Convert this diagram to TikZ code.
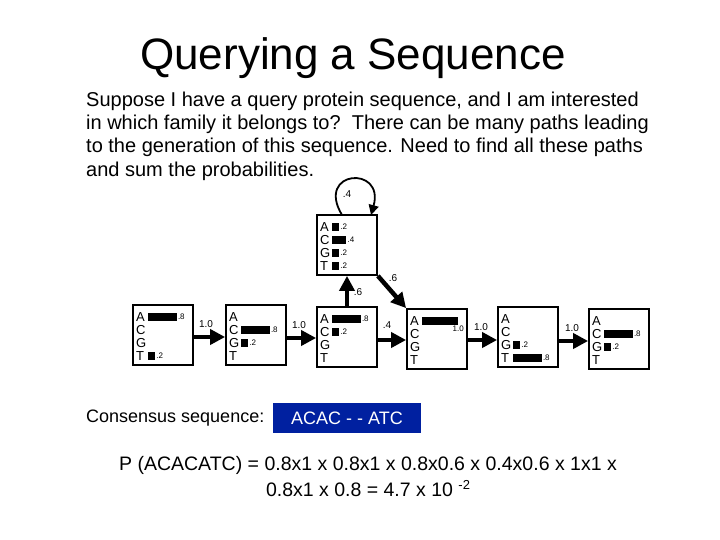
\documentclass[tikz,border=0pt]{standalone}
\usepackage{fontspec}
\setmainfont{Liberation Sans}
\usetikzlibrary{arrows.meta}
\newcommand\statebox[4]{%
  \node[sbox] (#1) at (#2+30,#3+30) {};
  \foreach \l/\v/\t [count=\i] in {#4} {
    \node[lett] (#1l\i) at (#2+3,#3-1+13*\i) {\l};
    \ifdim \v pt>0pt
      \fill (#2+15,#3-5+13*\i) rectangle ++(36*\v,8);
      \ifdim \v pt<1pt
        \node[val] (#1v\i) at (#2+15+36*\v,#3-1+13*\i) {\t};
      \else
        \node[val,anchor=north east] (#1v\i) at (#2+58,#3+3+13*\i) {\t};
      \fi
    \fi
  }%
}
\begin{document}
\begin{tikzpicture}[x=1pt,y=-1pt,
  sbox/.style={draw,line width=1.8pt,minimum width=60pt,minimum height=60pt,inner sep=0pt},
  lett/.style={anchor=west,inner sep=0pt,font=\fontsize{13}{13}\selectfont},
  val/.style={anchor=west,inner sep=1pt,font=\fontsize{8}{8}\selectfont},
  lab/.style={inner sep=0pt,font=\fontsize{10}{10}\selectfont},
  arr/.style={line width=4.5pt,-{Triangle[length=15pt,width=15pt]}},
  txt/.style={anchor=west,inner sep=0pt,font=\fontsize{20}{20}\selectfont}]
\useasboundingbox (0,0) rectangle (720,540);
\node[font=\fontsize{44}{44}\selectfont] (title) at (353,58) {Querying a Sequence};
\node[txt] (t1) at (86,101) {Suppose I have a query protein sequence, and I am interested};
\node[txt] (t2) at (86,124) {in which family it belongs to?\ \ There can be many paths leading};
\node[txt] (t3) at (86,147) {to the generation of this sequence. Need to find all these paths};
\node[txt] (t4) at (86,171) {and sum the probabilities.};
\statebox{b1}{133}{305}{A/0.8/.8,C/0/,G/0/,T/0.2/.2}
\statebox{b2}{226}{305}{A/0/,C/0.8/.8,G/0.2/.2,T/0/}
\statebox{b3}{317}{307}{A/0.8/.8,C/0.2/.2,G/0/,T/0/}
\statebox{bt}{317}{215}{A/0.2/.2,C/0.4/.4,G/0.2/.2,T/0.2/.2}
\statebox{b4}{407}{309}{A/1/1.0,C/0/,G/0/,T/0/}
\statebox{b5}{498}{307}{A/0/,C/0/,G/0.2/.2,T/0.8/.8}
\statebox{b6}{589}{309}{A/0/,C/0.8/.8,G/0.2/.2,T/0/}
\draw[arr] (b1.east|-0,337) -- (b2.west|-0,337);
\draw[arr] (b2.east|-0,338) -- (b3.west|-0,338);
\draw[arr] (b3.east|-0,340) -- (b4.west|-0,340);
\draw[arr] (b3.north) -- (bt.south);
\draw[arr] (bt.south east) -- (b4.north west);
\draw[arr] (b4.east|-0,340) -- (b5.west|-0,340);
\draw[arr] (b5.east|-0,341) -- (b6.west|-0,341);
\draw[line width=1.8pt,-{Triangle[length=10pt,width=10pt]}] (342,215) .. controls (315,170) and (385,165) .. (371,215);
\node[lab] (l0) at (347,194) {.4};
\node[lab] (l1) at (206,324) {1.0};
\node[lab] (l2) at (299,325) {1.0};
\node[lab] (l3) at (387,325) {.4};
\node[lab] (l4) at (358,292) {.6};
\node[lab] (l5) at (393,278) {.6};
\node[lab] (l6) at (481,327) {1.0};
\node[lab] (l7) at (572,328) {1.0};
\node[txt,font=\fontsize{18}{18}\selectfont] (cs) at (86,418) {Consensus sequence:};
\node[fill={rgb,255:red,0;green,32;blue,160},text=white,font=\fontsize{18}{18}\selectfont,minimum width=148pt,minimum height=30pt,inner sep=0pt] (cb) at (347,418) {ACAC - - ATC};
\node[font=\fontsize{19.5}{19.5}\selectfont] (p1) at (368,465) {P (ACACATC) = 0.8x1 x 0.8x1 x 0.8x0.6 x 0.4x0.6 x 1x1 x};
\node[font=\fontsize{19.5}{19.5}\selectfont] (p2) at (368,489) {0.8x1 x 0.8 = 4.7 x 10 \raisebox{7pt}{\fontsize{13}{13}\selectfont -2}};
\end{tikzpicture}
\end{document}
